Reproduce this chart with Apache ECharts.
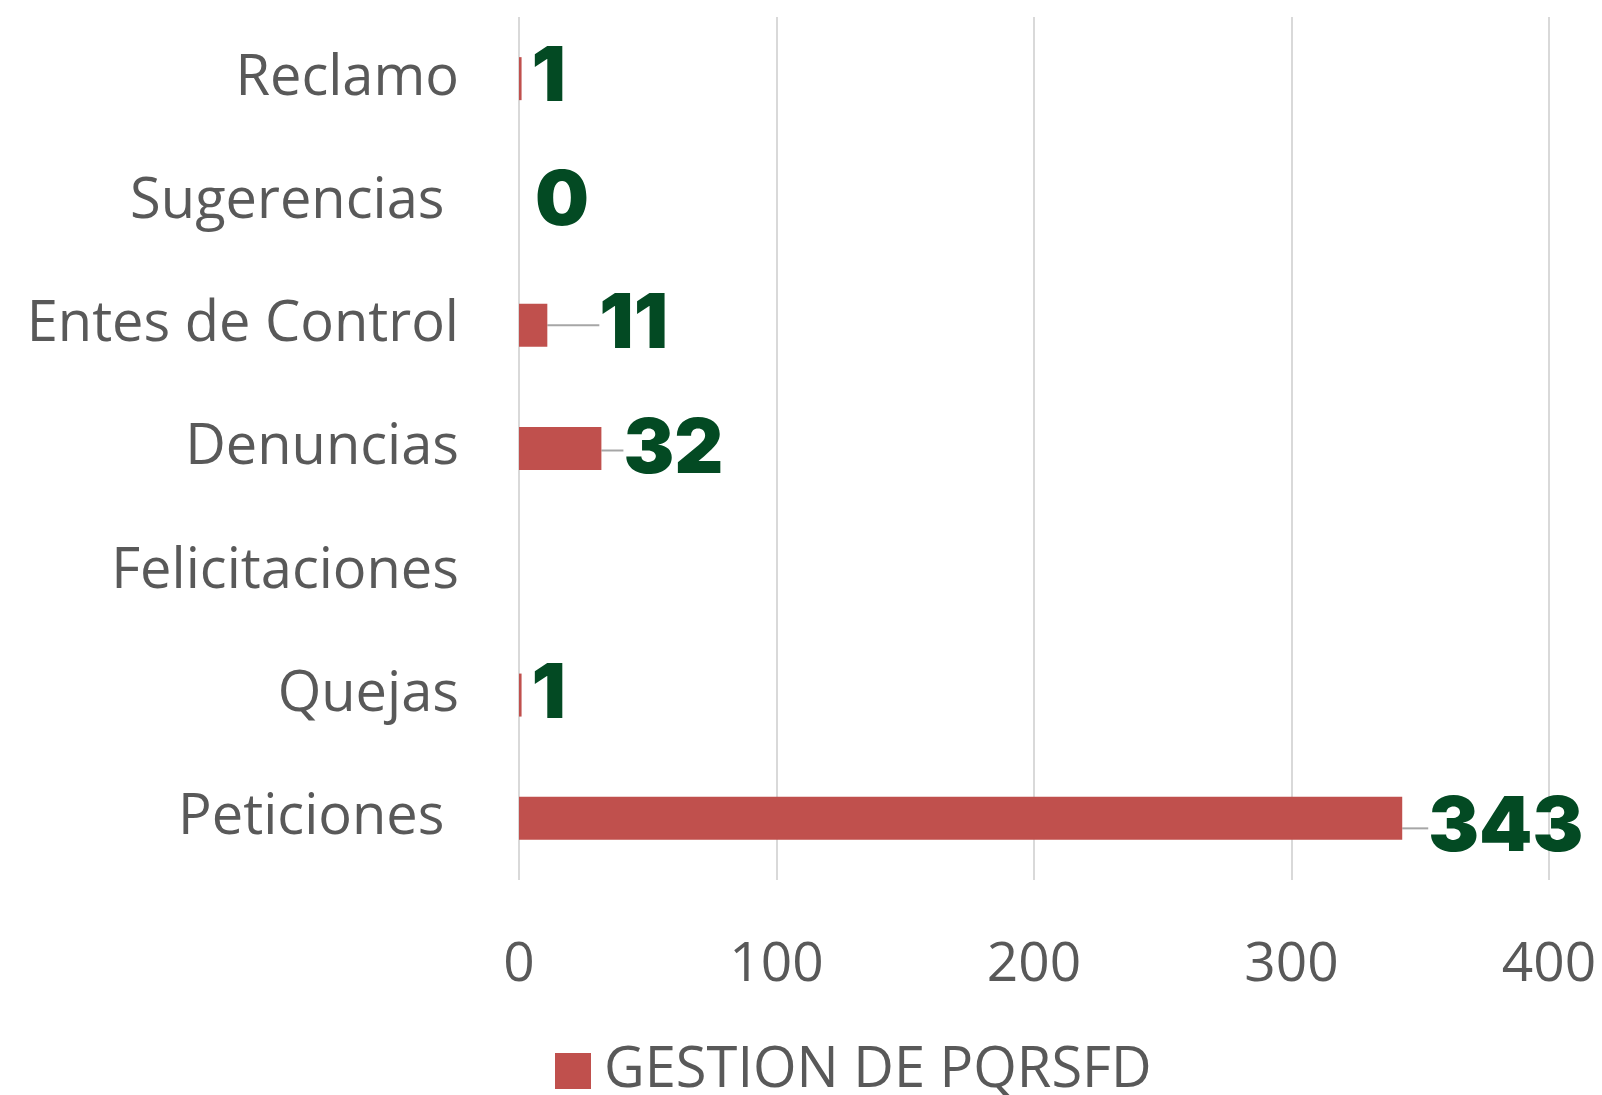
<!DOCTYPE html>
<html>
<head>
<meta charset="utf-8">
<script src="https://cdn.jsdelivr.net/npm/echarts@6/dist/echarts.min.js"></script>
<style>
html,body{margin:0;padding:0;background:#fff;}
#chart{width:1602px;height:1095px;}
</style>
</head>
<body>
<div id="chart"></div>
<script>
// Categories listed top-to-bottom as shown
const categories = ['Reclamo', 'Sugerencias ', 'Entes de Control', 'Denuncias', 'Felicitaciones', 'Quejas', 'Peticiones '];
const values = [1, 0, 11, 32, null, 1, 343];
const seriesName = 'GESTION DE PQRSFD';
const xTicks = [0, 100, 200, 300, 400];

// label offsets and leader-line visibility (styling) mimicking manually moved data labels
const labelShift = [[2, 0], [8, 0], [44, 0], [14, 2], [0, 0], [2, 0], [18, 10]];
const showLeader = [false, false, true, true, false, false, true];

const chart = echarts.init(document.getElementById('chart'));
chart.setOption({
  backgroundColor: '#ffffff',
  animation: false,
  grid: { left: 519, right: 53, top: 17, bottom: 215, containLabel: false },
  xAxis: {
    type: 'value',
    min: xTicks[0],
    max: xTicks[xTicks.length - 1],
    interval: 100,
    axisLine: { show: false },
    axisTick: { show: false },
    splitLine: { show: true, lineStyle: { color: '#d9d9d9', width: 2 } },
    axisLabel: { color: '#595959', fontSize: 55, fontFamily: 'Open Sans', margin: 58 }
  },
  yAxis: {
    type: 'category',
    inverse: true,
    data: categories,
    axisLine: { show: false },
    axisTick: { show: false },
    axisLabel: { color: '#595959', fontSize: 56, fontFamily: 'Open Sans', margin: 60 }
  },
  legend: {
    top: 1038,
    left: 550,
    itemWidth: 36,
    itemHeight: 36,
    itemGap: 10,
    icon: 'rect',
    textStyle: { color: '#595959', fontSize: 56, fontFamily: 'Open Sans', padding: [0, 0, 0, 8] },
    data: [seriesName]
  },
  series: [{
    name: seriesName,
    type: 'bar',
    data: values.map((v, i) => ({ value: v, labelLine: { show: showLeader[i] } })),
    barWidth: 43,
    itemStyle: { color: '#c0504d' },
    label: {
      show: true,
      position: 'right',
      distance: 8,
      color: '#034a23',
      fontFamily: 'Inter',
      fontWeight: 900,
      fontSize: 76,
      formatter: p => (p.value == null ? '' : String(p.value))
    },
    labelLine: { show: true, lineStyle: { color: '#a6a6a6', width: 2 } },
    labelLayout: function (params) {
      const s = labelShift[params.dataIndex] || [0, 0];
      return { dx: s[0], dy: s[1] };
    }
  }]
});
</script>
</body>
</html>
